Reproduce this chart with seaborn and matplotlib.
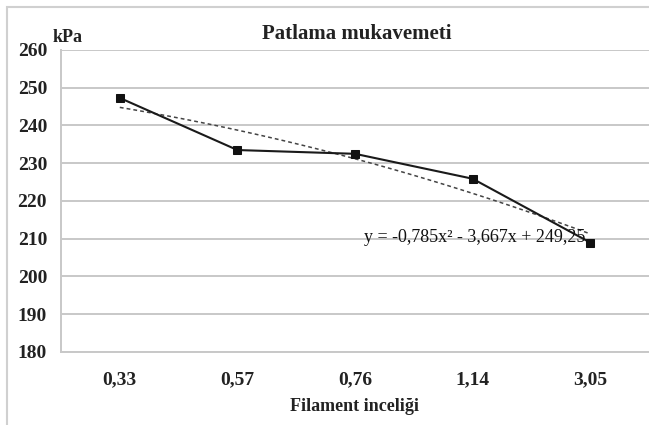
import numpy as np
import pandas as pd
import seaborn as sns
import matplotlib.pyplot as plt
from matplotlib.patches import Rectangle

categories = ["0,33", "0,57", "0,76", "1,14", "3,05"]
strength = [247.3, 233.5, 232.5, 225.9, 209.0]
# polynomial trendline coefficients (Excel-style, x = 1..5)
coef = [-0.785, -3.667, 249.25]

df = pd.DataFrame({"pos": np.arange(len(categories)), "kpa": strength})
xs = np.linspace(1, len(categories), 50)
trend = pd.DataFrame({"pos": xs - 1, "kpa": np.polyval(coef, xs)})

sns.set_style("white")
plt.rcParams["font.family"] = ["Liberation Serif", "DejaVu Serif"]

fig = plt.figure(figsize=(6.49, 4.25), dpi=100)
ax = fig.add_axes([61 / 649, 1 - 352 / 425, 588 / 649, 302 / 425])

sns.lineplot(data=trend, x="pos", y="kpa", ax=ax, color="#444444",
             linestyle=(0, (2.5, 2)), linewidth=1.1)
sns.lineplot(data=df, x="pos", y="kpa", ax=ax, color="#1a1a1a", linewidth=1.5,
             marker="s", markersize=6, markeredgecolor="#111111",
             markerfacecolor="#111111")

ax.set_xlim(-0.5, len(categories) - 0.5)
ax.set_ylim(180, 260)
ax.set_yticks(range(180, 261, 10))
ax.set_xticks(range(len(categories)))
ax.set_xticklabels(categories)
ax.yaxis.grid(True, color="#c8c8c8", linewidth=1.4)
ax.set_axisbelow(True)
for s in ["top", "right"]:
    ax.spines[s].set_visible(False)
ax.spines["left"].set_color("#c8c8c8")
ax.spines["left"].set_linewidth(1.4)
ax.spines["bottom"].set_color("#c8c8c8")
ax.spines["bottom"].set_linewidth(1.4)
ax.tick_params(axis="y", length=6, color="#c8c8c8", width=1.2, pad=4)
ax.tick_params(axis="x", length=0, pad=14)
for lab in ax.get_xticklabels() + ax.get_yticklabels():
    lab.set_fontweight("bold")
    lab.set_fontsize(14)
    lab.set_color("#222222")

ax.set_xlabel("Filament inceliği", fontsize=13, fontweight="bold",
              color="#222222", labelpad=7)
ax.set_ylabel("")
fig.text(53 / 649, 1 - 38 / 425, "kPa", fontsize=13, fontweight="bold",
         color="#222222", ha="left", va="center")
fig.text(357 / 649, 1 - 34 / 425, "Patlama mukavemeti", fontsize=15,
         fontweight="bold", color="#222222", ha="center", va="center")
ax.text(3.02, 210.3, "y = -0,785x² - 3,667x + 249,25", fontsize=13,
        color="#111111", ha="center", va="center")

fig.patches.append(Rectangle((7 / 649, -0.1), 2, 1 - 7 / 425 + 0.1,
                             transform=fig.transFigure, fill=False,
                             edgecolor="#d0d0d0", linewidth=1.5))

fig.savefig("out.png", dpi=100)
